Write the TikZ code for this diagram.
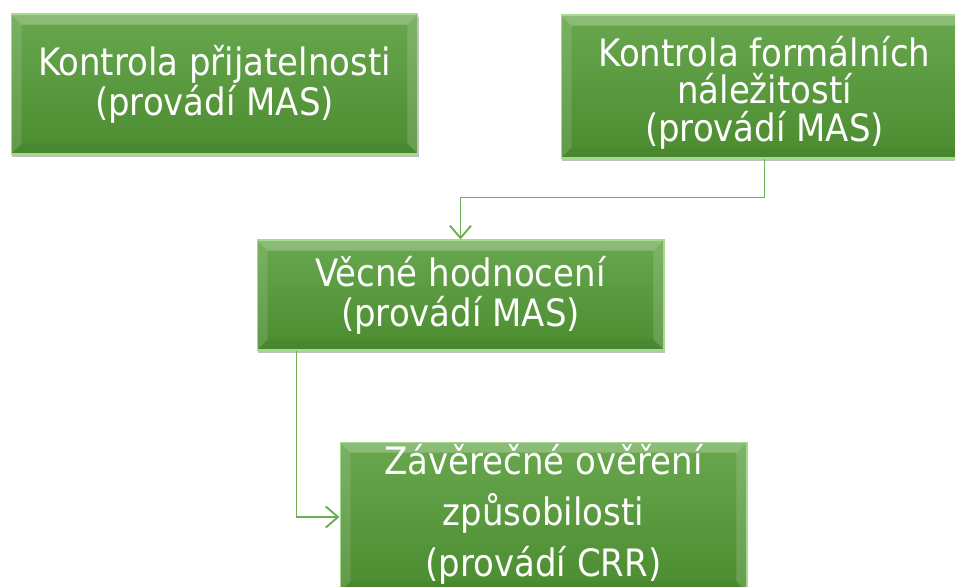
\documentclass[tikz,border=0pt]{standalone}
\usepackage{fontspec}
\setmainfont{DejaVu Sans Condensed}
\usetikzlibrary{arrows.meta,shadows}
\definecolor{boxtop}{RGB}{104,167,78}
\definecolor{boxbot}{RGB}{76,140,48}
\definecolor{boxedge}{RGB}{165,218,145}
\definecolor{conn}{RGB}{110,175,85}

\begin{document}
\begin{tikzpicture}[x=0.02cm,y=-0.02cm,
boxtext/.style={text=white,align=center,inner sep=0pt,font=\fontsize{21.5}{22.8}\selectfont},
box/.style={boxtext,rectangle,draw=boxedge,line width=0.6pt,top color=boxtop,bottom color=boxbot,
 minimum width=8.14cm,
 drop shadow={shadow xshift=0.6pt,shadow yshift=-1.8pt,opacity=0.25,fill=black},
 path picture={
 \fill[white,opacity=0.24](path picture bounding box.north west)--(path picture bounding box.north east)
 --([xshift=-6pt,yshift=-6pt]path picture bounding box.north east)--([xshift=6pt,yshift=-6pt]path picture bounding box.north west)--cycle;
 \fill[white,opacity=0.12](path picture bounding box.north west)--(path picture bounding box.south west)
 --([xshift=6pt,yshift=6pt]path picture bounding box.south west)--([xshift=6pt,yshift=-6pt]path picture bounding box.north west)--cycle;
 \fill[black,opacity=0.04](path picture bounding box.south west)--(path picture bounding box.south east)
 --([xshift=-6pt,yshift=6pt]path picture bounding box.south east)--([xshift=6pt,yshift=6pt]path picture bounding box.south west)--cycle;
 \fill[white,opacity=0.15](path picture bounding box.north east)--(path picture bounding box.south east)
 --([xshift=-6pt,yshift=6pt]path picture bounding box.south east)--([xshift=-6pt,yshift=-6pt]path picture bounding box.north east)--cycle;}},
link/.style={draw=conn,line width=1.1pt,-{Straight Barb[length=7pt,width=12pt]}}]
\useasboundingbox (0,0) rectangle (955,586);
\clip (0,0) rectangle (955,586);
% boxes
\node[box,minimum height=2.8cm] (prijat) at (214.5,84) {Kontrola přijatelnosti\\(provádí MAS)};
\node[box,minimum height=2.86cm] (formal) at (764.5,86.5) {};
\node[boxtext] (formaltxt) at ([yshift=-3.4pt]formal.center) {Kontrola formálních\\[-1.5pt]náležitostí\\[-1.5pt](provádí MAS)};
\node[box,minimum height=3cm] (zaver) at (543.5,517) {};
\node[boxtext] (zavertxt) at ([yshift=1.5pt]zaver.center) {Závěrečné ověření\\[6pt]způsobilosti\\[6pt](provádí CRR)};
\node[box,minimum height=2.2cm] (vecne) at (460.5,295) {Věcné hodnocení\\(provádí MAS)};
% connectors
\draw[link](formal.south)--++(0,39)-|(vecne.north);
\coordinate (knee) at ([xshift=0.8cm]vecne.south west);
\draw[link](knee)|-(zaver.west);
\end{tikzpicture}
\end{document}
